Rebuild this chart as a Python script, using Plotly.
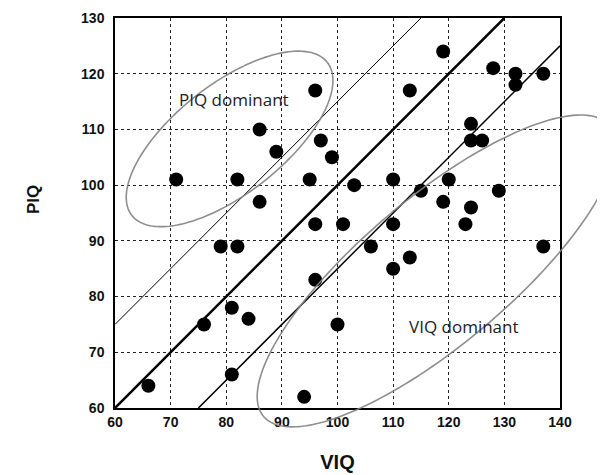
import numpy as np
import plotly.graph_objects as go

# ---- data ----
viq = [66, 71, 76, 79, 81, 81, 82, 82, 84, 86, 86, 89, 94, 96, 95, 96, 96, 97, 99, 100,
       101, 103, 106, 110, 110, 110, 113, 113, 115, 119, 119, 120, 123, 124, 124, 124,
       126, 128, 129, 132, 132, 137, 137]
piq = [64, 101, 75, 89, 78, 66, 101, 89, 76, 110, 97, 106, 62, 117, 101, 93, 83, 108, 105, 75,
       93, 100, 89, 101, 93, 85, 117, 87, 99, 124, 97, 101, 93, 111, 108, 96,
       108, 121, 99, 120, 118, 120, 89]

x_ticks = [60, 70, 80, 90, 100, 110, 120, 130, 140]
y_ticks = [60, 70, 80, 90, 100, 110, 120, 130]

line_offsets = [15, 0, -15]
line_widths = [1, 2.5, 1.5]

XMIN, XMAX = 60, 140
YMIN, YMAX = 60, 130

# ellipses: (center x, center y, semi-major, semi-minor, angle deg)
ellipses = {
    "PIQ dominant": (80.6, 108.3, 22.3, 9.8, 38),
    "VIQ dominant": (117.8, 84.6, 40.6, 13.2, 40),
}
labels = {"PIQ dominant": (81.4, 115.3), "VIQ dominant": (122.7, 74.6)}

# page body has an 8px margin; figure sized so the plot area lands where the reference has it
W, H = 597, 467
ML, MT, MR, MB = 107, 10, 45, 67
PW, PH = W - ML - MR, H - MT - MB

fig = go.Figure()

# reference lines y = x + offset, clipped to the axis box
for off, w in zip(line_offsets, line_widths):
    x0 = max(XMIN, YMIN - off)
    x1 = min(XMAX, YMAX - off)
    fig.add_trace(go.Scatter(x=[x0, x1], y=[x0 + off, x1 + off], mode="lines",
                             line=dict(color="black", width=w), showlegend=False,
                             hoverinfo="skip"))

fig.add_trace(go.Scatter(x=viq, y=piq, mode="markers",
                         marker=dict(color="black", size=14), showlegend=False))

# ellipses as paper-referenced paths (so they may extend beyond the axes)
shapes = []
t = np.linspace(0, 2 * np.pi, 200)
for name, (cx, cy, a, b, ang) in ellipses.items():
    th = np.deg2rad(ang)
    ex = cx + a * np.cos(t) * np.cos(th) - b * np.sin(t) * np.sin(th)
    ey = cy + a * np.cos(t) * np.sin(th) + b * np.sin(t) * np.cos(th)
    px = (ex - XMIN) / (XMAX - XMIN)
    py = (ey - YMIN) / (YMAX - YMIN)
    path = "M " + " L ".join(f"{u:.5f},{v:.5f}" for u, v in zip(px, py)) + " Z"
    shapes.append(dict(type="path", path=path, xref="paper", yref="paper",
                       line=dict(color="rgba(130,130,130,0.9)", width=1.6),
                       layer="above"))

annotations = []
for name, (lx, ly) in labels.items():
    annotations.append(dict(x=lx, y=ly, xref="x", yref="y", text=name, showarrow=False,
                            font=dict(family="Open Sans", size=17, color="#222")))
annotations.append(dict(x=(25 - ML) / PW, y=1 - (192 - MT) / PH, xref="paper", yref="paper",
                        xanchor="center", yanchor="middle",
                        text="PIQ", showarrow=False, textangle=-90,
                        font=dict(family="Liberation Sans", size=17, color="#111", weight="bold")))

fig.update_layout(
    width=W, height=H,
    margin=dict(l=ML, r=MR, t=MT, b=MB, autoexpand=False),
    paper_bgcolor="white", plot_bgcolor="white",
    shapes=shapes, annotations=annotations,
    xaxis=dict(range=[XMIN, XMAX], tickvals=x_ticks, showgrid=True, gridcolor="#222",
               griddash="dot", gridwidth=1, showline=True, mirror=True, linecolor="black",
               linewidth=1.5, zeroline=False, ticks="", automargin=False,
               tickfont=dict(family="Liberation Sans", size=14, color="#111", weight="bold"),
               title=dict(text="VIQ", standoff=26,
                          font=dict(family="Liberation Sans", size=20, color="#111", weight="bold"))),
    yaxis=dict(range=[YMIN, YMAX], tickvals=y_ticks, showgrid=True, gridcolor="#222",
               griddash="dot", gridwidth=1, showline=True, mirror=True, linecolor="black",
               linewidth=1.5, zeroline=False, ticks="", automargin=False, ticklabelstandoff=6,
               tickfont=dict(family="Liberation Sans", size=14, color="#111", weight="bold")),
)

fig.write_html("out.html")
